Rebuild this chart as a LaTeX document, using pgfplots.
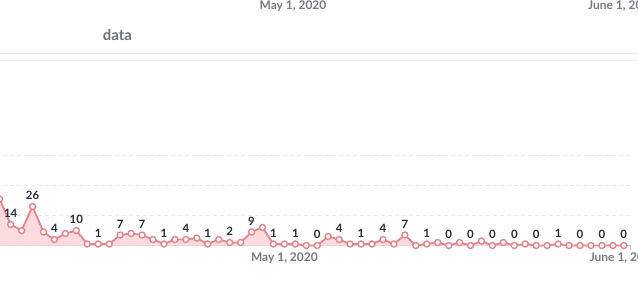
\documentclass[border=0pt]{standalone}
\usepackage{pgfplots}
\pgfplotsset{compat=1.18}
\usepackage{pgfplotstable}
\usepackage{fontspec}
\setmainfont{Lato}
\definecolor{linec}{RGB}{230,132,139}
\definecolor{fillc}{RGB}{251,220,222}
\definecolor{labc}{RGB}{40,46,52}
\definecolor{axc}{RGB}{116,123,132}
\definecolor{datac}{RGB}{110,116,124}
\definecolor{gridc}{RGB}{232,232,234}
\definecolor{sepc}{RGB}{230,230,232}

\pgfplotstableread{
x y
0 31
1 14
2 10
3 26
4 9
5 4
6 8
7 10
8 1
9 1
10 1
11 7
12 8
13 7
14 4
15 1
16 4
17 4
18 5
19 1
20 4
21 2
22 2
23 9
24 12
25 1
26 1
27 1
28 0
29 0
30 6
31 4
32 1
33 1
34 1
35 4
36 1
37 7
38 0
39 1
40 2
41 0
42 2
43 0
44 3
45 0
46 2
47 0
48 1
49 0
50 0
51 1
52 0
53 0
54 0
55 0
56 0
57 0
}\series

\pgfplotstableread{
x y
1 14
3 26
5 4
7 10
9 1
11 7
13 7
15 1
17 4
19 1
21 2
23 9
25 1
27 1
29 0
31 4
33 1
35 4
37 7
39 1
41 0
43 0
45 0
47 0
49 0
51 1
53 0
55 0
57 0
}\labels

\begin{document}
\begin{tikzpicture}
\fill[white] (0bp,0bp) rectangle (638bp,283bp);
\draw[sepc, line width=1.4bp] (0bp,229.5bp) -- (638bp,229.5bp);
\draw[sepc!60, line width=0.8bp] (0bp,223bp) -- (638bp,223bp);
\node[anchor=base, font=\fontsize{12}{14}\selectfont\bfseries, text=axc, inner sep=0pt] at (293bp,273.5bp) {May 1, 2020};
\node[anchor=base west, font=\fontsize{12}{14}\selectfont\bfseries, text=axc, inner sep=0pt] at (588bp,273.5bp) {June 1, 2020};
\node[anchor=base, font=\fontsize{15}{17}\selectfont\bfseries, text=datac, inner sep=0pt] at (117.5bp,242bp) {data};
\begin{axis}[
  at={(-11.25bp,34.5bp)}, anchor=south west,
  scale only axis, width=641.2bp, height=123bp,
  xmin=-1, xmax=57.56, ymin=-2, ymax=80,
  clip=false,
  axis line style={draw=none},
  ytick={20,40,60}, yticklabels={},
  ymajorgrids,
  grid style={gridc, dash pattern=on 4bp off 3bp, line width=0.8bp},
  xtick={26,57},
  xticklabels={{May 1, 2020},{June 1, 2020}},
  xticklabel style={anchor=base, yshift=-13bp, font=\fontsize{12}{14}\selectfont\bfseries, text=axc, inner sep=0pt},
  xtick style={draw=none}, ytick style={draw=none},
  major tick length=0pt,
]
\draw[gray!45, line width=0.8bp] (axis cs:-1,0) -- (axis cs:57.56,0) -- ([yshift=-4bp]axis cs:57.56,0);
\addplot[draw=none, fill=fillc] table[x=x,y=y]{\series} \closedcycle;
\addplot[linec, line width=1.8bp, mark=*, mark size=3bp, mark options={fill=white, draw=linec, line width=1.4bp, solid}] table[x=x,y=y]{\series};
\addplot[draw=none, mark=none, point meta=explicit symbolic,
  nodes near coords,
  every node near coord/.append style={anchor=base, yshift=7bp, font=\fontsize{11.5}{13}\selectfont\bfseries, text=labc, inner sep=0pt}
] table[x=x,y=y,meta=y]{\labels};
\end{axis}
\pgfresetboundingbox
\path[use as bounding box] (0bp,0bp) rectangle (638bp,283bp);
\end{tikzpicture}
\end{document}
